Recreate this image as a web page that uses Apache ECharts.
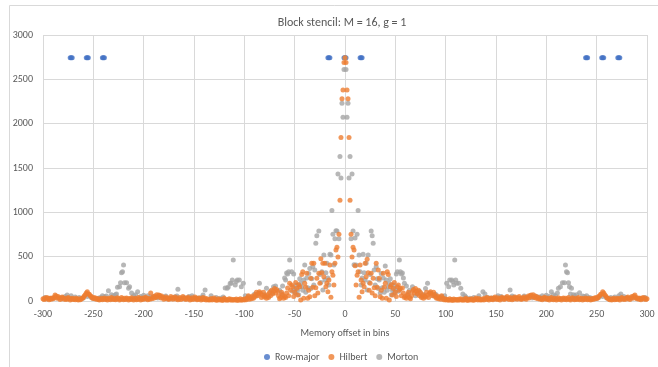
<!DOCTYPE html>
<html>
<head>
<meta charset="utf-8">
<script src="https://cdn.jsdelivr.net/npm/echarts@6/dist/echarts.min.js"></script>
<style>
  html, body { margin: 0; padding: 0; background: #ffffff; }
  #chart { width: 658px; height: 367px; }
</style>
</head>
<body>
<div id="chart"></div>
<script>
// Block stencil (M = 16, g = 1): number of stencil pairs per memory offset bin

const titleText = 'Block stencil: M = 16, g = 1';
const xAxisName = 'Memory offset in bins';
const seriesNames = ['Row-major', 'Hilbert', 'Morton'];
const seriesColors = ['#4472C4', '#ED7D31', '#A5A5A5'];

// Row-major: 27 stencil offsets, each with the same pair count
const rowMajorOffsets = [-273, -272, -271, -257, -256, -255, -241, -240, -239,
  -17, -16, -15, -1, 0, 1, 15, 16, 17,
  239, 240, 241, 255, 256, 257, 271, 272, 273];
const rowMajorCounts = [2744, 2744, 2744, 2744, 2744, 2744, 2744, 2744, 2744,
  2744, 2744, 2744, 2744, 2744, 2744, 2744, 2744, 2744,
  2744, 2744, 2744, 2744, 2744, 2744, 2744, 2744, 2744];

// Hilbert: counts for offsets 0, 1, 2, ..., 300
const hilbertPositive = [
  2744, 2690, 2380, 2280, 1845, 1135, 752, 496, 605, 575,
  398, 180, 290, 331, 41, 406, 237, 105, 200, 160,
  425, 274, 470, 319, 120, 199, 312, 90, 256, 150,
  60, 425, 154, 350, 256, 49, 120, 30, 312, 154,
  200, 30, 331, 300, 10, 160, 184, 68, 140, 210,
  100, 50, 162, 180, 120, 140, 60, 146, 90, 40,
  50, 30, 70, 100, 40, 25, 60, 110, 130, 90,
  140, 110, 80, 120, 60, 95, 40, 70, 30, 55,
  45, 100, 65, 40, 90, 105, 80, 60, 100, 70,
  45, 30, 55, 25, 40, 20, 60, 35, 15, 25,
  10, 20, 15, 8, 25, 12, 18, 5, 22, 14,
  10, 16, 8, 20, 12, 25, 15, 9, 18, 11,
  30, 14, 7, 20, 16, 10, 24, 12, 8, 18,
  35, 20, 12, 28, 15, 10, 15, 25, 12, 30,
  18, 40, 22, 10, 28, 35, 20, 14, 32, 45,
  25, 18, 38, 22, 12, 30, 42, 28, 16, 35,
  24, 50, 30, 18, 40, 26, 14, 36, 22, 45,
  30, 20, 38, 52, 28, 16, 34, 25, 46, 30,
  20, 40, 55, 35, 62, 68, 48, 70, 40, 55,
  30, 45, 25, 38, 20, 32, 15, 28, 42, 22,
  35, 18, 30, 12, 25, 40, 20, 14, 32, 26,
  10, 22, 38, 16, 28, 12, 24, 35, 18, 30,
  14, 26, 40, 20, 12, 28, 36, 22, 15, 30,
  18, 25, 40, 14, 22, 32, 12, 26, 18, 35,
  22, 14, 30, 20, 12, 25, 18, 30, 22, 40,
  28, 35, 50, 60, 75, 80, 105, 90, 70, 55,
  40, 30, 22, 15, 25, 12, 20, 30, 14, 25,
  18, 32, 22, 12, 28, 40, 24, 16, 30, 20,
  35, 45, 28, 18, 38, 50, 30, 55, 68, 40,
  25, 35, 20, 30, 15, 28, 40, 22, 35, 18,
  25
];

// Hilbert: counts for offsets -1, -2, -3, ..., -300
const hilbertNegative = [
  2690, 2380, 2280, 1845, 1135, 752, 496, 605, 575,
  425, 180, 290, 331, 41, 406, 237, 105, 200, 160,
  425, 274, 425, 319, 477, 199, 312, 90, 256, 150,
  60, 425, 154, 425, 256, 49, 120, 30, 312, 154,
  200, 30, 331, 300, 10, 160, 184, 68, 140, 210,
  100, 50, 162, 180, 120, 200, 60, 146, 90, 40,
  50, 30, 70, 100, 40, 25, 60, 110, 130, 90,
  140, 110, 80, 120, 60, 95, 40, 70, 30, 55,
  45, 100, 65, 40, 90, 105, 80, 60, 100, 70,
  45, 30, 55, 25, 40, 20, 60, 35, 15, 25,
  10, 20, 15, 8, 25, 12, 18, 5, 22, 14,
  10, 16, 8, 20, 12, 25, 15, 9, 18, 11,
  30, 14, 7, 20, 16, 10, 24, 12, 8, 18,
  35, 20, 12, 28, 15, 10, 15, 25, 12, 30,
  18, 40, 22, 10, 28, 35, 20, 14, 32, 45,
  25, 18, 38, 22, 12, 30, 42, 28, 16, 35,
  24, 50, 30, 18, 40, 26, 14, 36, 22, 45,
  30, 20, 38, 52, 28, 16, 34, 25, 46, 30,
  20, 40, 55, 35, 62, 68, 48, 70, 40, 55,
  30, 45, 25, 90, 20, 32, 15, 28, 42, 22,
  35, 18, 30, 12, 25, 40, 20, 14, 32, 26,
  10, 22, 38, 16, 28, 12, 24, 35, 18, 30,
  14, 26, 40, 20, 12, 28, 36, 22, 15, 30,
  18, 25, 40, 14, 22, 32, 12, 26, 18, 35,
  22, 14, 30, 20, 12, 25, 18, 30, 22, 40,
  28, 35, 50, 60, 75, 80, 105, 90, 70, 55,
  40, 30, 22, 15, 25, 12, 20, 30, 14, 25,
  18, 32, 22, 12, 28, 40, 24, 16, 30, 20,
  35, 45, 28, 18, 38, 50, 30, 55, 68, 40,
  25, 35, 20, 30, 15, 28, 40, 22, 35, 18,
  25
];

// Morton: [offset, count] for the occupied offset bins
const mortonRight = [
  [0, 2744], [1, 2612], [2, 2071], [3, 2229], [4, 1387], [5, 1631], [6, 702], [7, 1432],
  [8, 789], [9, 410], [10, 710], [11, 406], [12, 752], [13, 1022], [14, 519], [15, 331],
  [16, 180], [17, 260], [18, 526], [19, 320], [20, 237], [21, 425], [22, 124], [23, 519], [24, 210],
  [25, 300], [26, 789], [27, 736], [28, 650], [29, 350], [30, 180], [31, 385], [32, 252], [33, 140],
  [34, 237], [35, 90], [36, 310], [37, 150], [38, 260], [39, 100], [40, 395], [41, 237], [42, 120],
  [43, 160], [44, 200], [45, 250], [46, 70], [47, 124], [48, 180], [49, 90], [50, 140],
  [51, 304], [52, 331], [53, 110], [54, 462], [55, 331], [56, 304], [57, 316], [58, 260],
  [59, 200], [61, 169], [63, 80], [64, 120], [67, 162], [70, 60], [72, 90], [74, 110],
  [76, 50], [78, 70], [80, 140], [82, 200], [85, 90], [88, 60], [90, 75], [92, 40],
  [96, 50], [99, 60], [101, 200], [103, 160], [104, 237], [106, 237], [107, 220], [108, 180],
  [109, 462], [110, 237], [111, 200], [113, 200], [115, 143], [117, 80], [119, 60], [120, 45],
  [124, 30], [128, 40], [133, 60], [137, 105], [139, 79], [142, 40], [146, 35], [148, 30],
  [152, 60], [155, 50], [160, 40], [164, 124], [166, 55], [168, 45], [171, 30], [175, 30],
  [178, 55], [182, 40], [186, 35], [190, 50], [193, 45], [196, 60], [200, 65], [203, 50],
  [205, 105], [207, 70], [209, 60], [211, 90], [212, 143], [214, 162], [216, 206], [218, 206],
  [219, 406], [220, 331], [221, 320], [222, 206], [223, 160], [224, 80], [225, 143], [227, 70],
  [228, 60], [230, 70], [233, 94], [236, 55], [238, 50], [240, 60], [243, 40], [245, 30],
  [250, 30], [252, 40], [256, 50], [260, 35], [264, 40], [268, 45], [272, 60], [274, 79],
  [277, 50], [280, 40], [285, 35], [290, 30], [293, 30], [298, 40]
];
const mortonLeft = [
  [-1, 2612], [-2, 2071], [-3, 2229], [-4, 1387], [-5, 1631], [-6, 702], [-7, 1432],
  [-8, 789], [-9, 793], [-10, 702], [-11, 406], [-12, 752], [-13, 1022], [-14, 519], [-15, 526],
  [-16, 180], [-17, 260], [-18, 425], [-19, 320], [-20, 237], [-21, 519], [-22, 124], [-23, 331], [-24, 210],
  [-25, 300], [-26, 789], [-28, 736], [-29, 650], [-30, 350], [-31, 180], [-32, 385], [-33, 252], [-34, 140],
  [-35, 367], [-36, 310], [-37, 150], [-38, 260], [-39, 100], [-40, 406], [-41, 237], [-42, 120],
  [-43, 160], [-44, 200], [-45, 250], [-46, 70], [-47, 124], [-48, 180], [-49, 90], [-50, 140],
  [-51, 304], [-52, 110], [-53, 331], [-55, 462], [-56, 331], [-57, 304], [-58, 316], [-59, 237],
  [-60, 260], [-62, 169], [-63, 80], [-65, 120], [-69, 169], [-71, 162], [-72, 90], [-74, 110],
  [-76, 50], [-78, 143], [-80, 70], [-85, 200], [-86, 90], [-88, 60], [-90, 75], [-92, 40],
  [-96, 50], [-99, 60], [-101, 200], [-103, 160], [-105, 237], [-107, 237], [-108, 220], [-109, 180],
  [-111, 462], [-112, 237], [-113, 200], [-114, 200], [-116, 158], [-117, 143], [-119, 146], [-121, 45],
  [-124, 30], [-128, 40], [-133, 60], [-139, 124], [-141, 68], [-143, 40], [-146, 35], [-148, 30],
  [-152, 60], [-155, 50], [-160, 40], [-166, 132], [-167, 55], [-169, 45], [-171, 30], [-175, 30],
  [-178, 55], [-182, 40], [-186, 35], [-190, 50], [-193, 45], [-196, 60], [-200, 65], [-203, 50],
  [-206, 105], [-208, 70], [-210, 60], [-212, 90], [-214, 162], [-215, 143], [-217, 206], [-219, 206],
  [-220, 406], [-221, 331], [-222, 320], [-223, 206], [-224, 160], [-226, 154], [-227, 80], [-228, 70],
  [-230, 60], [-232, 70], [-235, 116], [-237, 55], [-239, 50], [-241, 60], [-243, 40], [-245, 30],
  [-250, 30], [-252, 40], [-256, 50], [-260, 35], [-264, 40], [-268, 45], [-272, 60], [-276, 68],
  [-278, 50], [-281, 40], [-285, 35], [-290, 30], [-293, 30], [-298, 40]
];

// Build [offset, count] pairs for the library
const rowMajorData = rowMajorOffsets.map((x, i) => [x, rowMajorCounts[i]]);
const hilbertData = [];
hilbertPositive.forEach((c, i) => hilbertData.push([i, c]));
hilbertNegative.forEach((c, i) => hilbertData.push([-(i + 1), c]));
const mortonData = mortonRight.concat(mortonLeft);

const textColor = '#595959';
const gridColor = '#d9d9d9';
const font = 'Carlito, Lato, "Open Sans", sans-serif';

const chart = echarts.init(document.getElementById('chart'), null, { renderer: 'canvas' });

chart.setOption({
  backgroundColor: '#ffffff',
  animation: false,
  graphic: [{
    type: 'rect',
    left: 7, top: 3,
    shape: { width: 700, height: 420 },
    style: { fill: 'none', stroke: gridColor, lineWidth: 1 },
    silent: true, z: -1
  }],
  title: {
    text: titleText,
    left: 337, textAlign: 'center', top: 12,
    textStyle: { color: textColor, fontSize: 12, fontWeight: 'normal', fontFamily: font }
  },
  legend: {
    data: seriesNames,
    top: 347, left: 259,
    icon: 'circle', itemWidth: 6, itemHeight: 6, itemGap: 9,
    textStyle: { color: textColor, fontSize: 10, fontFamily: font }
  },
  grid: { left: 43, right: 11, top: 35, bottom: 66, containLabel: false },
  xAxis: {
    type: 'value', min: -300, max: 300, interval: 50,
    name: xAxisName, nameLocation: 'middle', nameGap: 27,
    nameTextStyle: { color: textColor, fontSize: 10, fontFamily: font },
    axisLine: { show: true, lineStyle: { color: gridColor } },
    axisTick: { show: false },
    axisLabel: { color: textColor, fontSize: 10, fontFamily: font, margin: 8 },
    splitLine: { show: true, lineStyle: { color: gridColor } }
  },
  yAxis: {
    type: 'value', min: 0, max: 3000, interval: 500,
    axisLine: { show: false },
    axisTick: { show: false },
    axisLabel: { color: textColor, fontSize: 10, fontFamily: font, margin: 10,
      formatter: (v) => String(v) },
    splitLine: { show: true, lineStyle: { color: gridColor } }
  },
  series: [
    { name: seriesNames[0], type: 'scatter', data: rowMajorData, symbol: 'circle', symbolSize: 5,
      z: 2, itemStyle: { color: seriesColors[0] } },
    { name: seriesNames[1], type: 'scatter', data: hilbertData, symbol: 'circle', symbolSize: 5,
      z: 4, itemStyle: { color: seriesColors[1] } },
    { name: seriesNames[2], type: 'scatter', data: mortonData, symbol: 'circle', symbolSize: 5,
      z: 3, itemStyle: { color: seriesColors[2] } }
  ]
});
</script>
</body>
</html>
